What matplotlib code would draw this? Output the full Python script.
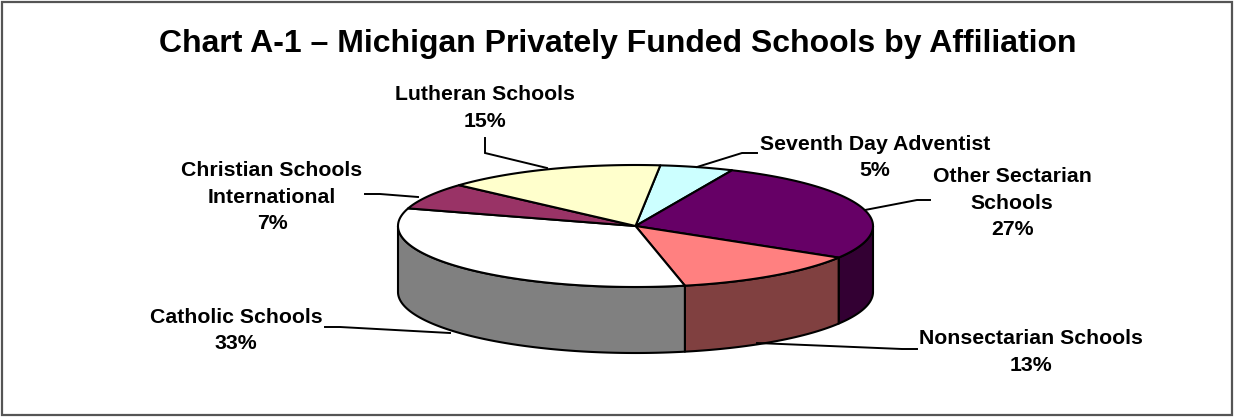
import numpy as np
import matplotlib.pyplot as plt
from matplotlib.patches import Polygon, Rectangle

plt.rcParams['font.family'] = ['Liberation Sans', 'DejaVu Sans']

# slices listed clockwise from the top of the pie
labels = ['Seventh Day Adventist', 'Other Sectarian\nSchools', 'Nonsectarian Schools',
          'Catholic Schools', 'Christian Schools\nInternational', 'Lutheran Schools']
values = [5, 27, 13, 33, 7, 15]
top_colors = ['#CCFFFF', '#660066', '#FF8080', '#FFFFFF', '#993366', '#FFFFCC']
side_colors = ['#668080', '#330033', '#804040', '#808080', '#4D1A33', '#808066']

W, H = 1236, 417
fig = plt.figure(figsize=(W / 100, H / 100), dpi=100)
ax = fig.add_axes([0, 0, 1, 1])
ax.set_xlim(0, W)
ax.set_ylim(H, 0)
ax.axis('off')

# frame around the chart
ax.add_patch(Rectangle((1.5, 1.5), 1230, 413, fill=False, ec='#555555', lw=1.6, zorder=0))

# pie geometry (pixels)
cx, cy, rx, ry, depth = 635.5, 226, 237.5, 61, 66
start = 84.0
fracs = np.array(values) / sum(values)
bounds = start - 360 * np.concatenate([[0], np.cumsum(fracs)])


def ell(t, dy=0.0):
    t = np.radians(t)
    return cx + rx * np.cos(t), cy - ry * np.sin(t) + dy


lw = 1.5
# visible side walls (front half)
for i in range(len(values)):
    hi = min(bounds[i], 0)
    lo = max(bounds[i + 1], -180)
    if hi <= lo:
        continue
    t = np.linspace(hi, lo, 120)
    xt, yt = ell(t)
    xb, yb = ell(t[::-1], depth)
    pts = np.column_stack([np.concatenate([xt, xb]), np.concatenate([yt, yb])])
    ax.add_patch(Polygon(pts, closed=True, fc=side_colors[i], ec='black', lw=lw,
                         joinstyle='round', zorder=1))

# top faces
for i in range(len(values)):
    t = np.linspace(bounds[i], bounds[i + 1], 200)
    xt, yt = ell(t)
    pts = np.column_stack([np.concatenate([[cx], xt]), np.concatenate([[cy], yt])])
    ax.add_patch(Polygon(pts, closed=True, fc=top_colors[i], ec='black', lw=lw,
                         joinstyle='round', zorder=2))

# labels and leader lines
label_pos = [(875, 157.5), (1012, 203), (1031, 352), (236, 330.5), (272, 197), (485, 108)]
leaders = [
    [(757, 153), (742, 153), (697, 167)],
    [(930, 200), (917, 200), (865, 210)],
    [(917, 349), (902, 349), (757, 343)],
    [(325, 327), (340, 327), (450, 333)],
    [(365, 194), (380, 194), (418, 197)],
    [(485, 138), (485, 153), (547, 168)],
]
for lab, v, (x, y), ld in zip(labels, values, label_pos, leaders):
    ax.text(x, y, f'{lab}\n{v}%', ha='center', va='center', fontsize=15.3,
            fontweight='bold', linespacing=1.5, zorder=5)
    lx, ly = zip(*ld)
    ax.plot(lx, ly, color='black', lw=1.4, zorder=3, solid_joinstyle='miter')

ax.text(617.5, 44, 'Chart A-1 \u2013 Michigan Privately Funded Schools by Affiliation',
        ha='center', va='center', fontsize=23, fontweight='bold')

fig.savefig('out.png', dpi=100)
